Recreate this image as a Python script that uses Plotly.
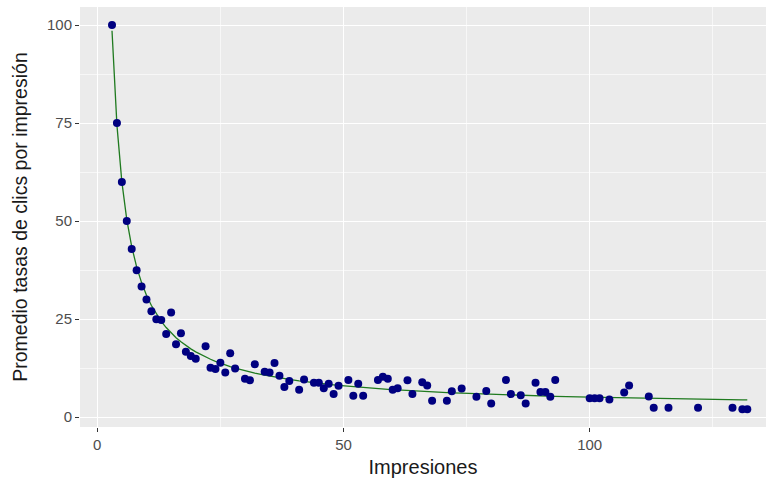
import numpy as np
import plotly.graph_objects as go

impresiones = [3, 4, 5, 6, 7, 8, 9, 10, 11, 12, 13, 14, 15, 16, 17, 18, 19, 20,
               22, 23, 24, 25, 26, 27, 28, 30, 31, 32, 34, 35, 36, 37, 38, 39,
               41, 42, 44, 45, 46, 47, 48, 49, 51, 52, 53, 54, 57, 58, 59, 60,
               61, 63, 64, 66, 67, 68, 71, 72, 74, 77, 79, 80, 83, 84, 86, 87,
               89, 90, 91, 92, 93, 100, 101, 102, 104, 107, 108, 112, 113, 116,
               122, 129, 131, 132]
tasa_media = [100, 75, 60, 50, 42.9, 37.5, 33.3, 30, 27.0, 25.0, 24.8, 21.2, 26.7,
              18.6, 21.4, 16.7, 15.6, 14.9,
              18.1, 12.6, 12.3, 13.9, 11.4, 16.3, 12.4, 9.8, 9.4, 13.5, 11.6, 11.4,
              13.8, 10.6, 7.7, 9.2,
              7.0, 9.6, 8.8, 8.8, 7.4, 8.5, 5.9, 8.0, 9.5, 5.5, 8.5, 5.5, 9.5, 10.3,
              9.8, 7.0,
              7.4, 9.4, 5.9, 8.9, 8.1, 4.2, 4.2, 6.6, 7.3, 5.2, 6.7, 3.5, 9.5, 5.9,
              5.6, 3.5,
              8.8, 6.4, 6.4, 5.2, 9.5, 4.8, 4.8, 4.8, 4.5, 6.3, 8.1, 5.3, 2.4, 2.4,
              2.4, 2.4, 2.0, 2.0]

x_ticks = [0, 50, 100]
y_ticks = [0, 25, 50, 75, 100]

# fitted curve y = a/x + b (least squares from the data)
xa = np.array(impresiones, dtype=float)
ya = np.array(tasa_media, dtype=float)
A = np.vstack([1.0 / xa, np.ones_like(xa)]).T
coef, *_ = np.linalg.lstsq(A, ya, rcond=None)
fit_y = A @ coef

FONT = "Liberation Sans, Arial, sans-serif"

fig = go.Figure()
fig.add_trace(go.Scatter(x=impresiones, y=fit_y, mode="lines",
                         line=dict(color="#1f7a1f", width=1.3),
                         hoverinfo="skip", showlegend=False))
fig.add_trace(go.Scatter(x=impresiones, y=tasa_media, mode="markers",
                         marker=dict(color="#000080", size=8),
                         showlegend=False))

axis_common = dict(
    showgrid=True, gridcolor="white", gridwidth=1.2,
    minor=dict(showgrid=True, gridcolor="#F7F7F7", gridwidth=0.6),
    zeroline=False, showline=False,
    ticks="outside", ticklen=4, tickcolor="#333333", tickwidth=1,
    tickfont=dict(family=FONT, size=15, color="#4D4D4D"),
)

fig.update_xaxes(range=[-3.5, 135.8], tickvals=x_ticks,
                 minor_tickvals=[25, 75, 125],
                 title=dict(text="Impresiones", standoff=7,
                            font=dict(family=FONT, size=20, color="#1a1a1a")),
                 **axis_common)
fig.update_yaxes(range=[-2.5, 104.6], tickvals=y_ticks,
                 minor_tickvals=[12.5, 37.5, 62.5, 87.5],
                 title=dict(text="Promedio tasas de clics por impresión", standoff=14,
                            font=dict(family=FONT, size=19.5, color="#1a1a1a")),
                 **axis_common)

fig.update_layout(
    width=766, height=485,
    margin=dict(l=80, r=0, t=7, b=58, autoexpand=False),
    plot_bgcolor="#EBEBEB", paper_bgcolor="white",
)

fig.write_html("out.html")
